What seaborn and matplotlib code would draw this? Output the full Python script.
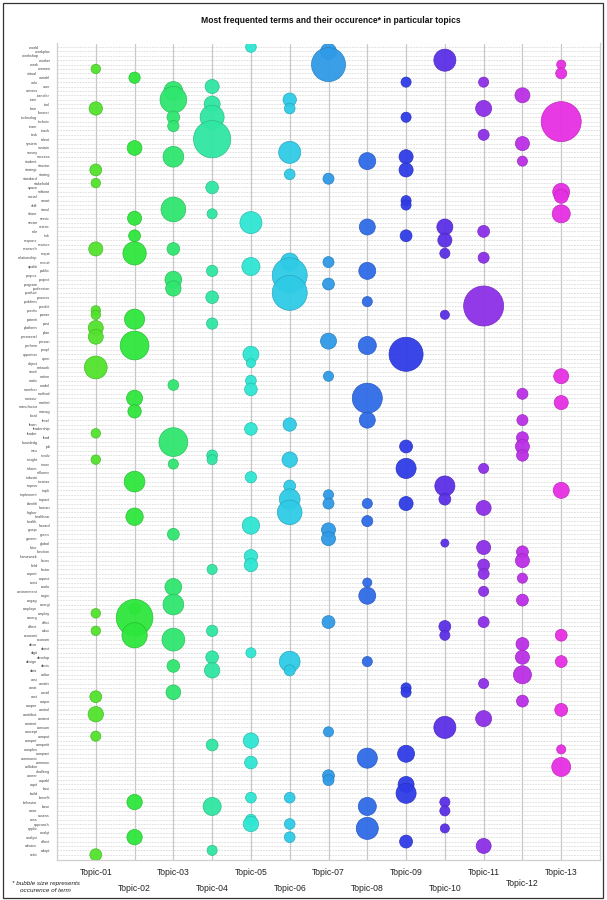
import numpy as np
import pandas as pd
import matplotlib.pyplot as plt
import seaborn as sns
from matplotlib import font_manager
from matplotlib.patches import Rectangle

# =========================
# DATA
# =========================
# stemmed terms, listed from top row to bottom row
terms = [
    "world", "workplac", "workshop", "worker", "work", "women", "virtual", "variabl", "valu", "user",
    "univers", "transfer", "train", "tool", "time", "theoret", "technolog", "technic", "team", "teach",
    "task", "talent", "system", "sustain", "survey", "success", "student", "structur", "strategi", "strateg",
    "standard", "stakehold", "space", "softwar", "social", "smart", "skill", "simul", "share", "servic",
    "sector", "scienc", "role", "risk", "respons", "resourc", "research", "requir", "relationship", "recruit",
    "qualiti", "public", "propos", "project", "program", "profession", "product", "process", "problem", "predict",
    "practic", "power", "potenti", "post", "platform", "plan", "personnel", "person", "perform", "peopl",
    "opportun", "open", "object", "network", "need", "nation", "motiv", "model", "member", "method",
    "measur", "market", "manufactur", "manag", "local", "level", "learn", "leadership", "leader", "lead",
    "knowledg", "job", "issu", "involv", "insight", "innov", "inform", "influenc", "industri", "increas",
    "improv", "impli", "implement", "impact", "identifi", "human", "higher", "healthcar", "health", "hazard",
    "group", "green", "govern", "global", "futur", "function", "framework", "focus", "field", "factor",
    "expert", "expect", "exist", "evalu", "environment", "engin", "engag", "energi", "employe", "employ",
    "emerg", "effici", "effect", "educ", "economi", "econom", "drive", "direct", "digit", "develop",
    "design", "decis", "data", "cultur", "crisi", "creativ", "creat", "covid", "cost", "corpor",
    "cooper", "control", "contribut", "context", "content", "consum", "concept", "comput", "compet", "competit",
    "complex", "compani", "communic", "commun", "collabor", "challeng", "career", "capabl", "capit", "busi",
    "build", "benefit", "behavior", "base", "awar", "assess", "area", "approach", "applic", "analyt",
    "analysi", "affect", "advanc", "adopt", "activ",
]

topics = ["Topic-01", "Topic-02", "Topic-03", "Topic-04", "Topic-05", "Topic-06", "Topic-07",
          "Topic-08", "Topic-09", "Topic-10", "Topic-11", "Topic-12", "Topic-13"]

topic_colors = ["#52e22c", "#2ee63c", "#2fe66f", "#30e6a2", "#2ee6d2", "#2fcbe6", "#2f9ae6",
                "#2f6ae6", "#2f3ce6", "#5b2fe6", "#8c2fe6", "#bb2fe6", "#e62fe3"]

t01_terms = ["women", "time", "strategi", "stakehold", "research", "practic", "power", "platform",
             "personnel", "network", "leader", "insight", "employ", "educ", "cost", "contribut", "comput", "activ"]
t01_counts = [14, 28, 22, 14, 31, 14, 14, 35, 35, 81, 14, 14, 14, 14, 22, 37, 16, 22]

t02_terms = ["variabl", "sustain", "servic", "risk", "requir", "potenti", "perform", "measur", "manag",
             "increas", "healthcar", "employe", "emerg", "economi", "behavior", "analysi"]
t02_counts = [20, 34, 31, 22, 85, 63, 129, 40, 28, 67, 47, 20, 210, 100, 37, 37]

t03_terms = ["univers", "train", "technolog", "team", "success", "simul", "research", "project",
             "profession", "model", "knowledg", "innov", "green", "evalu", "energi", "econom", "decis", "covid"]
t03_counts = [55, 111, 25, 20, 67, 95, 25, 44, 37, 18, 129, 16, 22, 44, 67, 81, 25, 34]

t04_terms = ["user", "tool", "technolog", "talent", "space", "share", "public", "process", "post",
             "involv", "insight", "factor", "educ", "develop", "data", "competit", "base", "adopt"]
t04_counts = [31, 40, 90, 217, 25, 16, 20, 25, 20, 18, 16, 16, 20, 25, 37, 22, 51, 16]

t05_terms = ["world", "sector", "qualiti", "opportun", "object", "motiv", "member", "leadership",
             "industri", "hazard", "framework", "field", "digit", "compet", "commun", "benefit", "area", "approach"]
t05_counts = [18, 76, 51, 40, 13, 18, 25, 25, 20, 47, 28, 28, 16, 37, 25, 18, 18, 37]

t06_terms = ["train", "time", "survey", "strateg", "recruit", "propos", "product", "learn", "insight",
             "improv", "impact", "higher", "design", "data", "benefit", "approach", "analysi"]
t06_counts = [28, 18, 76, 18, 51, 191, 191, 28, 37, 22, 67, 95, 67, 19, 18, 18, 18]

t07_terms = ["workplac", "work", "standard", "recruit", "program", "person", "nation", "implement",
             "identifi", "group", "govern", "effici", "concept", "career", "capabl"]
t07_counts = [40, 181, 19, 19, 22, 40, 16, 16, 19, 31, 31, 26, 16, 22, 19]

t08_terms = ["student", "scienc", "public", "problem", "perform", "measur", "level", "identifi",
             "health", "exist", "engin", "design", "communic", "base", "applic"]
t08_counts = [45, 40, 45, 16, 51, 141, 40, 16, 19, 13, 45, 16, 63, 51, 76]

t09_terms = ["valu", "technolog", "success", "strategi", "smart", "skill", "risk", "opportun", "job",
             "inform", "identifi", "creat", "covid", "compani", "capit", "build", "affect"]
t09_counts = [16, 16, 31, 31, 16, 16, 22, 181, 26, 63, 31, 16, 16, 45, 40, 63, 26]

t10_terms = ["worker", "scienc", "respons", "requir", "power", "improv", "impact", "global", "effect",
             "economi", "consum", "behavior", "awar", "applic"]
t10_counts = [76, 40, 31, 16, 13, 63, 22, 10, 22, 16, 76, 16, 16, 13]

t11_terms = ["valu", "time", "task", "role", "relationship", "predict", "inform", "human", "futur",
             "field", "expert", "environment", "effici", "creativ", "context", "advanc"]
t11_counts = [16, 40, 19, 22, 19, 250, 16, 35, 31, 22, 19, 16, 19, 16, 40, 35]

t12_terms = ["transfer", "system", "student", "method", "level", "lead", "job", "involv", "function",
             "focus", "expect", "engag", "drive", "develop", "cultur", "corpor"]
t12_counts = [35, 31, 16, 19, 19, 22, 31, 22, 22, 31, 16, 22, 26, 31, 51, 22]

t13_terms = ["work", "virtual", "technic", "softwar", "social", "share", "nation", "market", "impli",
             "economi", "design", "control", "complex", "collabor"]
t13_counts = [13, 19, 250, 45, 31, 51, 35, 31, 40, 22, 22, 26, 13, 56]

topic_terms = [t01_terms, t02_terms, t03_terms, t04_terms, t05_terms, t06_terms, t07_terms,
               t08_terms, t09_terms, t10_terms, t11_terms, t12_terms, t13_terms]
topic_counts = [t01_counts, t02_counts, t03_counts, t04_counts, t05_counts, t06_counts, t07_counts,
                t08_counts, t09_counts, t10_counts, t11_counts, t12_counts, t13_counts]

# =========================
# LONG TABLE
# =========================
records = []
for k, (tt, cc) in enumerate(zip(topic_terms, topic_counts)):
    for term, cnt in zip(tt, cc):
        records.append({"topic": topics[k], "x": k + 1, "row": terms.index(term), "count": cnt})
df = pd.DataFrame(records)

# =========================
# FONTS
# =========================
sns.set_style("white")
installed = {f.name for f in font_manager.fontManager.ttflist}
narrow = "Liberation Sans Narrow" if "Liberation Sans Narrow" in installed else "Liberation Sans"
plt.rcParams["font.family"] = [narrow, "DejaVu Sans"]
scale_txt = 1.0 if narrow == "Liberation Sans Narrow" else 0.82

# =========================
# FIGURE
# =========================
fig = plt.figure(figsize=(6.07, 9.0), dpi=100)
ax = fig.add_axes([57 / 607, 1 - 860 / 900, 543 / 607, (860 - 43.5) / 900])

cmin, cmax = df["count"].min(), df["count"].max()
sns.scatterplot(
    data=df, x="x", y="row",
    hue="topic", hue_order=topics, palette=topic_colors,
    size="count", sizes=(3.32 * cmin, 3.32 * cmax), size_norm=(cmin, cmax),
    alpha=0.95, linewidth=0.5,
    legend=False, ax=ax, zorder=3,
)

# outline each bubble with a slightly darker shade of its own fill
pts = ax.collections[-1]
fc = np.array(pts.get_facecolors())
ec = fc.copy()
ec[:, :3] = ec[:, :3] * 0.82
ec[:, 3] = 0.55
pts.set_edgecolors(ec)

n = len(terms)
ax.set_xlim(0, 14)
ax.set_ylim(n - 1 + 1.2, -0.8)

ax.set_xticks(range(1, 14))
ax.set_xticklabels(topics, fontsize=7.6 * scale_txt, color="#222222")
ax.set_yticks(range(n))
ax.set_yticklabels(terms, fontsize=2.7, color="#444444")
ax.set_xlabel("")
ax.set_ylabel("")

ax.tick_params(axis="both", length=0)
for i, tick in enumerate(ax.yaxis.get_major_ticks()):
    tick.set_pad(14 if i % 2 == 0 else 5)
for i, tick in enumerate(ax.xaxis.get_major_ticks()):
    if i % 2 == 0:
        tick.set_pad(6)
    elif i == 11:
        tick.set_pad(14)
    else:
        tick.set_pad(17)

ax.xaxis.grid(True, color="#c8c8c8", linewidth=0.9, zorder=0)
ax.yaxis.grid(True, color="#d4d4d4", linewidth=0.5, linestyle=(0, (2.5, 1.5)), zorder=0)
ax.set_axisbelow(True)
for side in ["left", "right", "bottom"]:
    ax.spines[side].set_color("#cfcfcf")
    ax.spines[side].set_linewidth(0.9)
ax.spines["top"].set_visible(False)

fig.text(0.545, 0.977, "Most frequented terms and their occurence* in particular topics",
         ha="center", va="center", fontsize=7.5 * scale_txt, fontweight="bold", color="#111111")
fig.text(0.075, 0.0145, "* bubble size represents\noccurence of term",
         ha="center", va="center", fontsize=5.6 * scale_txt, style="italic", color="#222222",
         linespacing=1.3)

fig.patches.append(Rectangle((3 / 607, 2 / 900), 600 / 607, 895 / 900, transform=fig.transFigure,
                             fill=False, edgecolor="#333333", linewidth=0.9))

fig.savefig("out.png", dpi=100)
